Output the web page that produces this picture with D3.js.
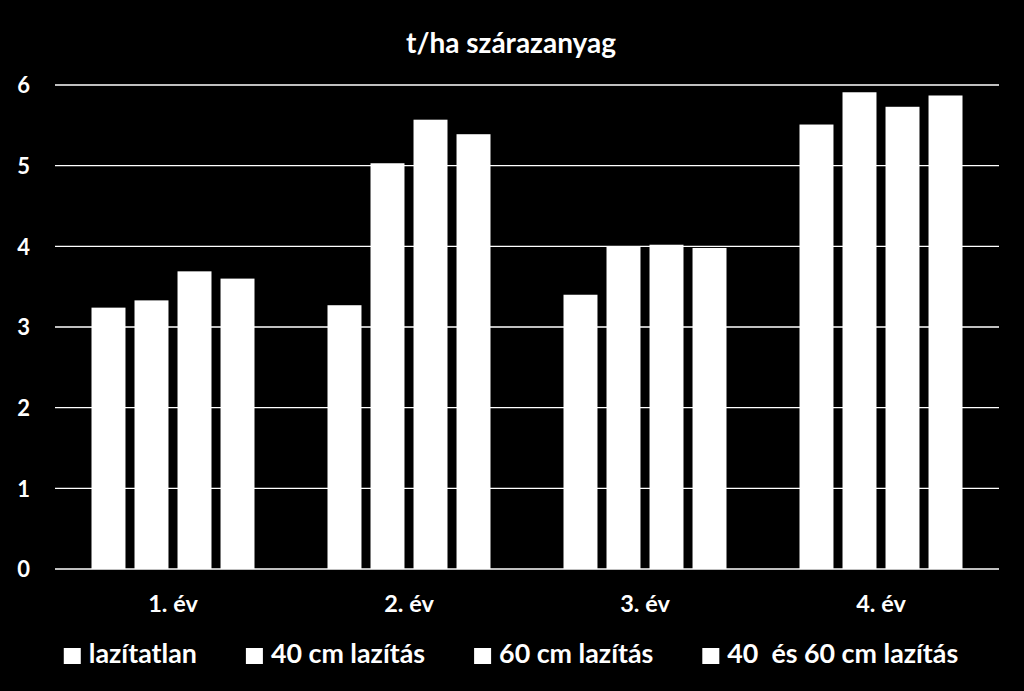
<!DOCTYPE html>
<html>
<head>
<meta charset="utf-8">
<script src="https://cdn.jsdelivr.net/npm/d3@7"></script>
<style>
  html, body { margin: 0; padding: 0; background: #000; }
  svg { display: block; }
  text { font-family: Lato, "Open Sans", sans-serif; font-weight: bold; fill: #fff; }
</style>
</head>
<body>
<svg id="chart" width="1024" height="691"></svg>
<script>
// chart data
const categories = ["1. év", "2. év", "3. év", "4. év"];
const seriesNames = ["lazítatlan", "40 cm lazítás", "60 cm lazítás", "40  és 60 cm lazítás"];
const lazitatlan = [3.24, 3.27, 3.40, 5.51];
const laz40 = [3.33, 5.03, 4.00, 5.91];
const laz60 = [3.69, 5.57, 4.02, 5.73];
const laz4060 = [3.60, 5.39, 3.98, 5.87];
const yTicks = [0, 1, 2, 3, 4, 5, 6];
const title = "t/ha szárazanyag";

const series = [lazitatlan, laz40, laz60, laz4060];

const W = 1024, H = 691;
const plot = { left: 55, right: 999, top: 85, bottom: 569 };

const svg = d3.select("#chart");
svg.append("rect").attr("width", W).attr("height", H).attr("fill", "#000");

const x0 = d3.scaleBand().domain(categories).range([plot.left, plot.right]);
const x1 = d3.scaleBand().domain(d3.range(series.length))
    .range([36.5, x0.bandwidth() - 36.5]).paddingInner(0.21);
const y = d3.scaleLinear().domain([0, 6]).range([plot.bottom, plot.top]);

// gridlines
svg.append("g").selectAll("line").data(yTicks).join("line")
    .attr("x1", plot.left).attr("x2", plot.right)
    .attr("y1", d => y(d)).attr("y2", d => y(d))
    .attr("stroke", "#fff").attr("stroke-width", 1.3);

// y tick labels
const yAxis = d3.axisLeft(y).tickValues(yTicks).tickFormat(d3.format("d")).tickSize(0).tickPadding(0);
const gy = svg.append("g").attr("transform", "translate(30,0)").call(yAxis);
gy.select(".domain").remove();
gy.selectAll("text").attr("fill", "#fff").style("font-size", "22px").attr("dy", "0.36em");

// bars
const groups = svg.append("g").selectAll("g").data(categories).join("g")
    .attr("transform", d => `translate(${x0(d)},0)`);
groups.selectAll("rect")
    .data((c, ci) => series.map((s, si) => ({ si, v: s[ci] })))
    .join("rect")
    .attr("x", d => x1(d.si))
    .attr("width", x1.bandwidth())
    .attr("y", d => y(d.v))
    .attr("height", d => y(0) - y(d.v))
    .attr("fill", "#fff");

// category labels
const xAxis = d3.axisBottom(x0).tickSize(0).tickPadding(0);
const gx = svg.append("g").attr("transform", "translate(0,604)").call(xAxis);
gx.select(".domain").remove();
gx.selectAll("text").attr("fill", "#fff").style("font-size", "23.5px").attr("dy", "0.35em");

// title
svg.append("text").attr("x", 511).attr("y", 53)
    .attr("text-anchor", "middle").style("font-size", "28px").text(title);

// legend
const lg = svg.append("g");
const items = lg.selectAll("g").data(seriesNames).join("g");
items.append("rect").attr("width", 17).attr("height", 16).attr("y", -15).attr("fill", "#fff");
items.append("text").attr("x", 25).style("font-size", "26.8px")
    .style("white-space", "pre").text(d => d);
let cx = 0;
items.each(function () {
    const g = d3.select(this);
    g.attr("transform", `translate(${cx},0)`);
    cx += 25 + g.select("text").node().getComputedTextLength() + 49;
});
const total = cx - 49;
lg.attr("transform", `translate(${511 - total / 2},663)`);
</script>
</body>
</html>
